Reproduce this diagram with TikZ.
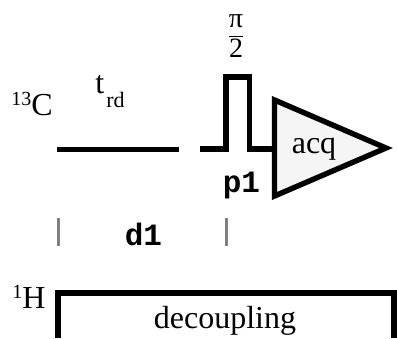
\documentclass[tikz,border=0pt]{standalone}
\usepackage{fontspec}
\setmainfont{Liberation Serif}
\setmonofont{Liberation Mono}
\usetikzlibrary{positioning}
\newcommand{\isotope}[2]{\raisebox{5pt}{\fontsize{10}{10}\selectfont #1}#2}
\newcommand{\lowidx}[2]{#1\kern1pt\raisebox{-7pt}{\fontsize{11}{11}\selectfont #2}}

\begin{document}
\begin{tikzpicture}[x=0.5pt, y=-0.5pt,
  label/.style={inner sep=0pt, font=\fontsize{16}{19}\selectfont},
  param/.style={inner sep=0pt, font=\fontsize{15.5}{18}\selectfont\ttfamily\bfseries},
  pulse/.style={line width=2.7pt, line cap=butt, line join=miter},
  marker/.style={line width=1.6pt, gray}
]
  \useasboundingbox (0,0) rectangle (397,338);

  \node[label, anchor=base west] (carbon) at (11,115) {\isotope{13}{C}};
  \node[label, anchor=base west] (proton) at (12,308) {\isotope{1}{H}};
  \node[label, anchor=base west] (trd) at (95,93) {\lowidx{t}{rd}};
  \node[inner sep=0pt] (angle) at (236,36) {$\displaystyle\frac{\mbox{\fontsize{14}{15}\selectfont π}}{\mbox{\fontsize{14}{15}\selectfont 2}}$};
  \node[param, anchor=base] (pone) at (241.5,192) {p1};
  \node[param, anchor=base] (done) at (143.5,245) {d1};

  \coordinate (rdstart) at (57,149.5);
  \coordinate (rdend) at (179,149.5);
  \coordinate (pstart) at (200,149);
  \coordinate (pleft) at (226,149);
  \coordinate (ptopl) at (226,77);
  \coordinate (ptopr) at (249.7,77);
  \coordinate (pright) at (249.7,149);
  \coordinate (acqtop) at (274.5,100);
  \coordinate (acqbot) at (274.5,196);
  \coordinate (acqtip) at (386,148);
  \coordinate (acqin) at (274.5,149);
  \coordinate (dlefttop) at (58.5,218);
  \coordinate (dleftbot) at (58.5,246);
  \coordinate (drighttop) at (226.5,218);
  \coordinate (drightbot) at (226.5,246);

  \draw[pulse] (rdstart) -- (rdend);
  \draw[pulse] (pstart) -- (pleft) -- (ptopl) -- (ptopr) -- (pright) -- (acqin);
  \draw[pulse, fill=gray!8] (acqtop) -- (acqtip) -- (acqbot) -- cycle;
  \node[label, anchor=base] (acq) at (314,153) {acq};

  \draw[marker] (dlefttop) -- (dleftbot);
  \draw[marker] (drighttop) -- (drightbot);

  \draw[line width=3pt, line join=miter] (58,338) -- (58,293) -- (394,293) -- (394,338);
  \node[label, anchor=base] (decoup) at (225,328) {decoupling};
\end{tikzpicture}
\end{document}
